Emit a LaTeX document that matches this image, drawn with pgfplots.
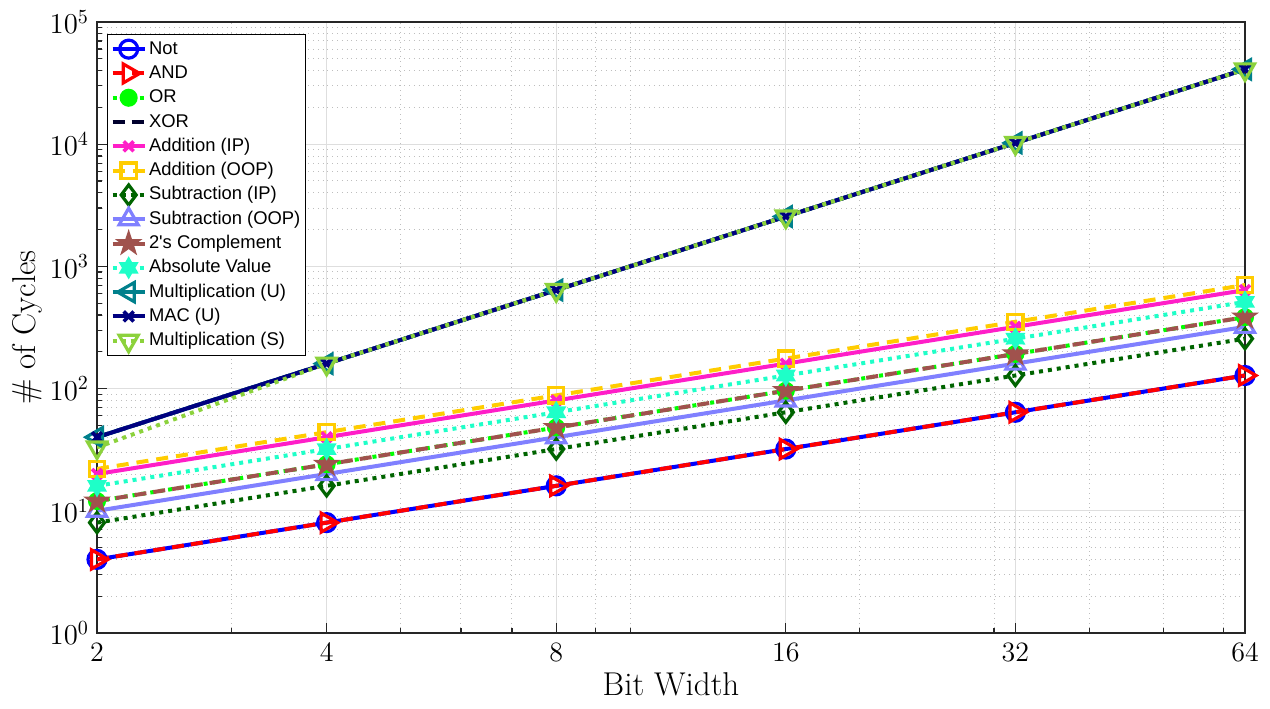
\documentclass[border=0pt]{standalone}
\usepackage{pgfplots}
\pgfplotsset{compat=1.18}
\usepackage{fontspec}
\newfontfamily\legfont{Liberation Sans}

\definecolor{cXOR}{RGB}{0,0,45}
\definecolor{cAddIP}{RGB}{255,30,200}
\definecolor{cAddOOP}{RGB}{255,204,0}
\definecolor{cSubIP}{RGB}{0,100,0}
\definecolor{cSubOOP}{RGB}{128,128,255}
\definecolor{cTwos}{RGB}{160,82,77}
\definecolor{cAbs}{RGB}{30,255,200}
\definecolor{cMulU}{RGB}{0,128,140}
\definecolor{cMAC}{RGB}{0,0,128}
\definecolor{cMulS}{RGB}{140,210,60}
\definecolor{gridmaj}{RGB}{222,222,222}
\definecolor{gridmin}{RGB}{190,190,190}

\pgfdeclareplotmark{pentagram}{%
  \pgfpathmoveto{\pgfpointpolar{90}{\pgfplotmarksize}}%
  \pgfpathlineto{\pgfpointpolar{126}{0.382\pgfplotmarksize}}%
  \pgfpathlineto{\pgfpointpolar{162}{\pgfplotmarksize}}%
  \pgfpathlineto{\pgfpointpolar{198}{0.382\pgfplotmarksize}}%
  \pgfpathlineto{\pgfpointpolar{234}{\pgfplotmarksize}}%
  \pgfpathlineto{\pgfpointpolar{270}{0.382\pgfplotmarksize}}%
  \pgfpathlineto{\pgfpointpolar{306}{\pgfplotmarksize}}%
  \pgfpathlineto{\pgfpointpolar{342}{0.382\pgfplotmarksize}}%
  \pgfpathlineto{\pgfpointpolar{18}{\pgfplotmarksize}}%
  \pgfpathlineto{\pgfpointpolar{54}{0.382\pgfplotmarksize}}%
  \pgfpathclose
  \pgfusepathqfillstroke}
\pgfdeclareplotmark{hexagram}{%
  \pgfpathmoveto{\pgfpointpolar{90}{\pgfplotmarksize}}%
  \pgfpathlineto{\pgfpointpolar{120}{0.577\pgfplotmarksize}}%
  \pgfpathlineto{\pgfpointpolar{150}{\pgfplotmarksize}}%
  \pgfpathlineto{\pgfpointpolar{180}{0.577\pgfplotmarksize}}%
  \pgfpathlineto{\pgfpointpolar{210}{\pgfplotmarksize}}%
  \pgfpathlineto{\pgfpointpolar{240}{0.577\pgfplotmarksize}}%
  \pgfpathlineto{\pgfpointpolar{270}{\pgfplotmarksize}}%
  \pgfpathlineto{\pgfpointpolar{300}{0.577\pgfplotmarksize}}%
  \pgfpathlineto{\pgfpointpolar{330}{\pgfplotmarksize}}%
  \pgfpathlineto{\pgfpointpolar{0}{0.577\pgfplotmarksize}}%
  \pgfpathlineto{\pgfpointpolar{30}{\pgfplotmarksize}}%
  \pgfpathlineto{\pgfpointpolar{60}{0.577\pgfplotmarksize}}%
  \pgfpathclose
  \pgfusepathqfillstroke}

\begin{document}
\begin{tikzpicture}
\begin{axis}[
  name=ax,
  scale only axis,
  width=574pt, height=305.5pt,
  xmode=log, ymode=log,
  xmin=2, xmax=64, ymin=1, ymax=1e5,
  xtick={2,4,8,16,32,64},
  xticklabels={2,4,8,16,32,64},
  minor xtick={3,5,6,7,9,10,20,30,40,50,60},
  ytick={1,10,100,1000,10000,100000},
  tick align=inside,
  xtick pos=left, ytick pos=left,
  major tick length=5pt, minor tick length=2.5pt,
  grid=both,
  major grid style={gridmaj, line width=0.6pt},
  minor grid style={gridmin, dotted, line width=0.5pt},
  axis line style={black!85, line width=0.7pt},
  tick style={black!85, line width=0.6pt},
  tick label style={font=\fontsize{14}{16}\selectfont},
  xticklabel style={yshift=-1.5pt},
  yticklabel style={xshift=-0.5pt},
  label style={font=\fontsize{16.5}{18}\selectfont},
  xlabel={Bit Width},
  ylabel={\# of Cycles},
  xlabel style={yshift=2pt},
  ylabel style={yshift=-3pt},
  every axis plot/.append style={line width=2pt},
  mark size=4.5pt,
  legend cell align=left,
  legend image code/.code={\draw[mark repeat=2,mark phase=2] plot coordinates {(0cm,0cm)(0.28cm,0cm)(0.56cm,0cm)};},
  legend style={at={(rel axis cs:0.009,0.981)}, anchor=north west,
    font=\legfont\fontsize{9.2}{11}\selectfont, draw=black,
    fill=white, inner sep=1.5pt, row sep=0pt,
    nodes={inner sep=1.2pt, text height=7.4pt, text depth=2.35pt}},
]
\addplot[blue, solid, mark=o, mark options={solid, line width=1.6pt}] coordinates {(2,4)(4,8)(8,16)(16,32)(32,64)(64,128)};
\addlegendentry{Not}
\addplot[red, dash pattern=on 6pt off 3.5pt, mark=triangle, mark size=5.5pt, mark options={solid, rotate=-90, line width=1.6pt}] coordinates {(2,4)(4,8)(8,16)(16,32)(32,64)(64,128)};
\addlegendentry{AND}
\addplot[green, dash pattern=on 2pt off 2.5pt, mark=*, mark size=3.5pt, mark options={solid}] coordinates {(2,12)(4,24)(8,48)(16,96)(32,192)(64,384)};
\addlegendentry{OR}
\addplot[cXOR, dash pattern=on 6pt off 3.5pt] coordinates {(2,40)(4,160)(8,640)(16,2560)(32,10240)(64,40960)};
\addlegendentry{XOR}
\addplot[cAddIP, solid, mark=x, mark size=3.5pt, mark options={solid, line width=1.8pt}] coordinates {(2,20)(4,40)(8,80)(16,160)(32,320)(64,640)};
\addlegendentry{Addition (IP)}
\addplot[cAddOOP, dash pattern=on 6pt off 4pt, mark=square, mark size=3.8pt, mark options={solid, line width=1.6pt}] coordinates {(2,22)(4,44)(8,88)(16,176)(32,352)(64,704)};
\addlegendentry{Addition (OOP)}
\addplot[cSubIP, dash pattern=on 2pt off 2.5pt, mark=diamond, mark size=5pt, mark options={solid, line width=1.6pt}] coordinates {(2,8)(4,16)(8,32)(16,64)(32,128)(64,256)};
\addlegendentry{Subtraction (IP)}
\addplot[cSubOOP, solid, mark=triangle, mark size=5.5pt, mark options={solid, line width=1.6pt}] coordinates {(2,10)(4,20)(8,40)(16,80)(32,160)(64,320)};
\addlegendentry{Subtraction (OOP)}
\addplot[cTwos, dash pattern=on 6pt off 3.5pt, mark=pentagram, mark size=6pt, mark options={solid, fill=cTwos, line width=0.8pt}, legend image post style={solid}] coordinates {(2,12)(4,24)(8,48)(16,96)(32,192)(64,384)};
\addlegendentry{2's Complement}
\addplot[cAbs, dash pattern=on 2pt off 2.5pt, mark=hexagram, mark size=5pt, mark options={solid, fill=cAbs, line width=0.8pt}] coordinates {(2,16)(4,32)(8,64)(16,128)(32,256)(64,512)};
\addlegendentry{Absolute Value}
\addplot[cMulU, solid, mark=triangle, mark size=5.5pt, mark options={solid, rotate=90, line width=1.6pt}] coordinates {(2,40)(4,160)(8,640)(16,2560)(32,10240)(64,40960)};
\addlegendentry{Multiplication (U)}
\addplot[cMAC, solid, mark=x, mark size=3.5pt, mark options={solid, line width=1.8pt}] coordinates {(2,40)(4,160)(8,640)(16,2560)(32,10240)(64,40960)};
\addlegendentry{MAC (U)}
\addplot[cMulS, dash pattern=on 2pt off 2.5pt, mark=triangle, mark size=5.5pt, mark options={solid, rotate=180, line width=1.6pt}] coordinates {(2,33)(4,160)(8,640)(16,2560)(32,10240)(64,40960)};
\addlegendentry{Multiplication (S)}
\end{axis}
\pgfresetboundingbox
\path ([xshift=-48.5pt,yshift=-38pt]ax.south west) rectangle ([xshift=12.5pt,yshift=11pt]ax.north east);
\end{tikzpicture}
\end{document}
